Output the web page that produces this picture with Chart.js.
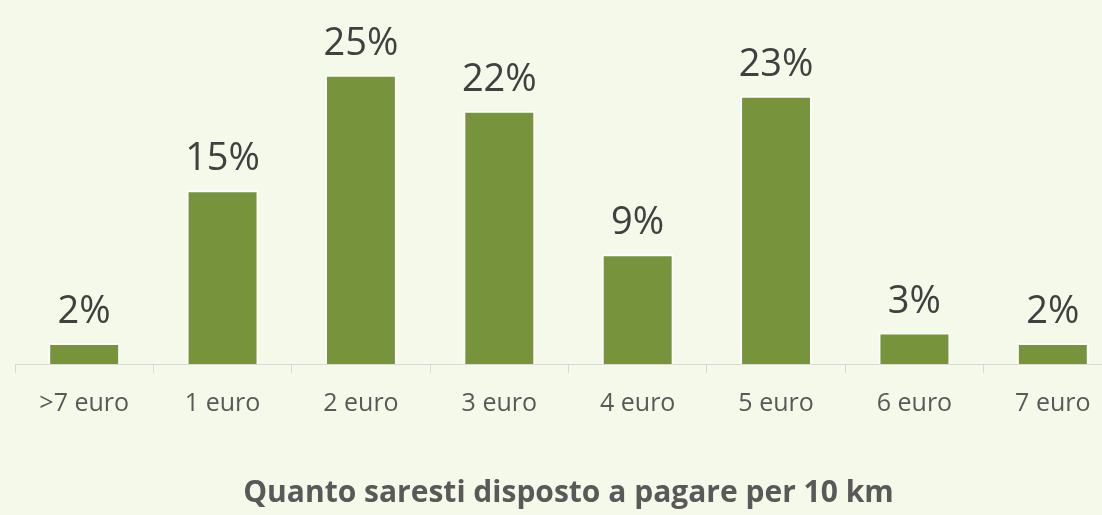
<!DOCTYPE html>
<html>
<head>
<meta charset="utf-8">
<script src="https://cdn.jsdelivr.net/npm/chart.js@4"></script>
<style>
    html, body { margin: 0; padding: 0; overflow: hidden; background: #F5F9EA; }
    #wrap { width: 1122px; height: 515px; position: relative; }
</style>
</head>
<body>
<div id="wrap"><canvas id="price-chart" width="1122" height="515"></canvas></div>
<script>
const categories = ['>7 euro', '1 euro', '2 euro', '3 euro', '4 euro', '5 euro', '6 euro', '7 euro'];
const shares = [1.8, 14.9, 24.8, 21.7, 9.4, 23.0, 2.7, 1.8];
const chartTitle = 'Quanto saresti disposto a pagare per 10 km';

// percent labels above each bar
const valueLabels = {
    id: 'valueLabels',
    afterDatasetsDraw(chart) {
        const ctx = chart.ctx;
        const meta = chart.getDatasetMeta(0);
        ctx.save();
        ctx.font = '38px "Open Sans"';
        ctx.fillStyle = '#404040';
        ctx.textAlign = 'center';
        ctx.textBaseline = 'alphabetic';
        meta.data.forEach(function (bar, i) {
            ctx.fillText(Math.round(shares[i]) + '%', bar.x, bar.y - 20);
        });
        ctx.restore();
    }
};

new Chart(document.getElementById('price-chart'), {
    type: 'bar',
    data: {
        labels: categories,
        datasets: [{
            data: shares,
            backgroundColor: '#77933C',
            borderColor: '#FFFFFF',
            borderWidth: 2,
            barPercentage: 0.52,
            categoryPercentage: 1
        }]
    },
    options: {
        responsive: false,
        animation: false,
        layout: {
            padding: { top: 14, left: 15, right: 0, bottom: 0 }
        },
        plugins: {
            legend: { display: false },
            tooltip: { enabled: false },
            title: {
                display: true,
                position: 'bottom',
                text: chartTitle,
                color: '#595959',
                font: { size: 30, weight: 'bold', family: '"Open Sans"' },
                padding: { top: 40, bottom: 4 }
            }
        },
        scales: {
            x: {
                grid: {
                    offset: true,
                    drawOnChartArea: false,
                    drawTicks: true,
                    tickLength: 9,
                    color: '#D9D9D9'
                },
                border: { display: true, color: '#D9D9D9', width: 1 },
                ticks: {
                    color: '#595959',
                    padding: 16,
                    maxRotation: 0,
                    autoSkip: false,
                    font: { size: 25, family: '"Open Sans"' }
                }
            },
            y: {
                display: false,
                min: 0,
                max: 30
            }
        }
    },
    plugins: [valueLabels]
});
</script>
</body>
</html>
